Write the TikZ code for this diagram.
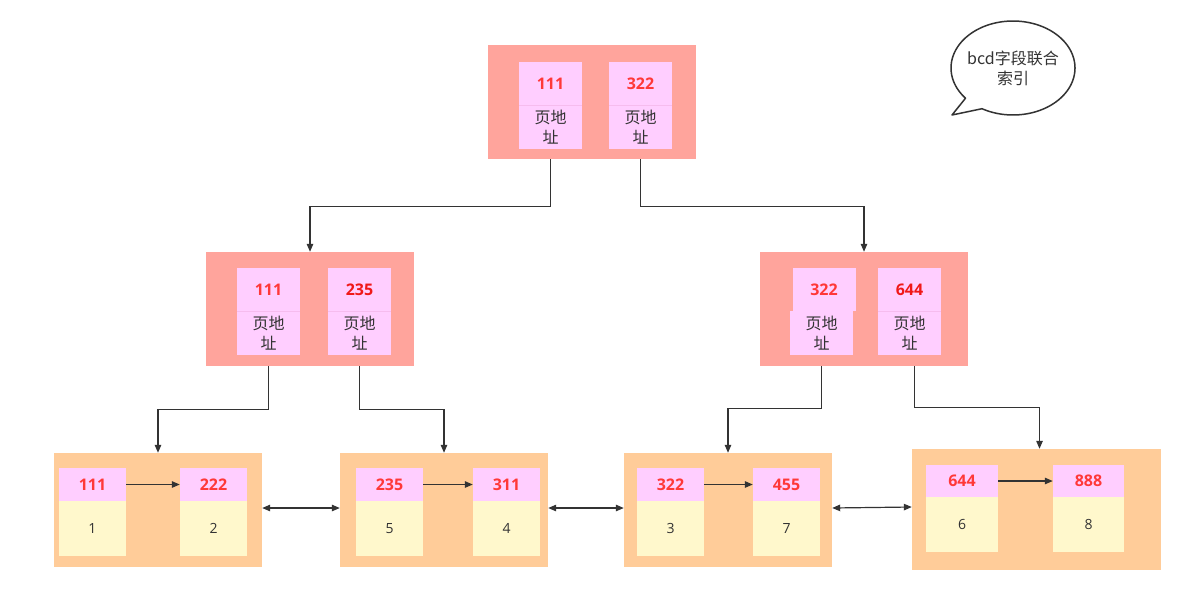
\documentclass[tikz,border=0pt]{standalone}
\usepackage{fontspec}
\setmainfont{Open Sans}
\newfontfamily\cjk{Noto Sans CJK SC}
\usetikzlibrary{arrows.meta}
\definecolor{outerred}{HTML}{FFA49C}
\definecolor{innerpink}{HTML}{FFCEFF}
\definecolor{divpink}{HTML}{F6BCEE}
\definecolor{outerpeach}{HTML}{FFCC99}
\definecolor{inneryellow}{HTML}{FFF8CC}
\definecolor{numred}{HTML}{FF3838}
\definecolor{numredb}{HTML}{F01818}
\definecolor{linegray}{HTML}{333333}
\definecolor{textgray}{HTML}{333333}
\tikzset{
  outerbox/.style={fill=outerred, inner sep=0pt, minimum width=208pt, minimum height=114pt},
  leafbox/.style={fill=outerpeach, inner sep=0pt, minimum width=208pt, minimum height=114pt},
  keybox/.style={fill=innerpink, inner sep=0pt, minimum width=63pt, minimum height=43pt,
     text=numred, font=\bfseries\fontsize{16}{19}\selectfont},
  addrbox/.style={fill=innerpink, inner sep=0pt, minimum width=63pt, minimum height=44pt,
     text=textgray, align=center, font=\cjk\fontsize{16}{19.5}\selectfont},
  leafkey/.style={fill=innerpink, inner sep=0pt, minimum width=67pt, minimum height=33pt,
     text=numred, font=\bfseries\fontsize{16}{19}\selectfont},
  leafval/.style={fill=inneryellow, inner sep=0pt, minimum width=67pt, minimum height=55pt,
     text=textgray, font=\fontsize{14}{17}\selectfont},
  conn/.style={draw=linegray, line width=1.2pt, -{Triangle[length=8pt,width=6.5pt]}},
  biconn/.style={draw=linegray, line width=1.2pt, {Triangle[length=8pt,width=6.5pt]}-{Triangle[length=8pt,width=6.5pt]}},
  divline/.style={draw=divpink, line width=0.6pt}
}
\begin{document}
\begin{tikzpicture}[x=1pt,y=-1pt]
\fill[white] (0,0) rectangle (1198,592);
\useasboundingbox (0,0) rectangle (1198,592);

% ---- top node
\node[outerbox] (top) at (592,102) {};
\node[keybox] (t1k) at (550.5,83.5) {111};
\node[addrbox] (t1a) at (550.5,127) {页地\\址};
\node[keybox] (t2k) at (640.5,83.5) {322};
\node[addrbox] (t2a) at (640.5,127) {页地\\址};
\draw[divline] (t1k.south west) -- (t1k.south east);
\draw[divline] (t2k.south west) -- (t2k.south east);

% ---- middle left
\node[outerbox] (ml) at (310,309) {};
\node[keybox] (m1k) at (268.5,289.5) {111};
\node[addrbox] (m1a) at (268.5,333) {页地\\址};
\node[keybox, text=numredb] (m2k) at (359.5,289.5) {235};
\node[addrbox] (m2a) at (359.5,333) {页地\\址};
\draw[divline] (m1k.south west) -- (m1k.south east);
\draw[divline] (m2k.south west) -- (m2k.south east);

% ---- middle right
\node[outerbox] (mr) at (864,309) {};
\node[keybox] (m3k) at (824,289.5) {322};
\node[addrbox] (m3a) at (821.5,333) {页地\\址};
\node[keybox, text=numredb] (m4k) at (909.5,289.5) {644};
\node[addrbox] (m4a) at (909.5,333) {页地\\址};
\draw[divline] (m4k.south west) -- (m4k.south east);

% ---- leaves
\node[leafbox] (b1) at (158,510) {};
\node[leafkey] (b1lk) at (92.5,484.5) {111};
\node[leafval] (b1lv) at (92.5,528.5) {1};
\node[leafkey] (b1rk) at (213.5,484.5) {222};
\node[leafval] (b1rv) at (213.5,528.5) {2};

\node[leafbox] (b2) at (444,510) {};
\node[leafkey] (b2lk) at (389.5,484.5) {235};
\node[leafval] (b2lv) at (389.5,528.5) {5};
\node[leafkey] (b2rk) at (506.5,484.5) {311};
\node[leafval] (b2rv) at (506.5,528.5) {4};

\node[leafbox] (b3) at (728,510) {};
\node[leafkey] (b3lk) at (670.5,484.5) {322};
\node[leafval] (b3lv) at (670.5,528.5) {3};
\node[leafkey] (b3rk) at (786.5,484.5) {455};
\node[leafval] (b3rv) at (786.5,528.5) {7};

\node[leafbox, minimum width=249pt, minimum height=121pt] (b4) at (1036.5,509.5) {};
\node[leafkey, minimum width=72pt, minimum height=32pt] (b4lk) at (962,481) {644};
\node[leafval, minimum width=72pt] (b4lv) at (962,524.5) {6};
\node[leafkey, minimum width=71pt, minimum height=32pt] (b4rk) at (1088.5,481) {888};
\node[leafval, minimum width=71pt] (b4rv) at (1088.5,524.5) {8};

% ---- tree connectors
\draw[conn] (top.south -| t1k) -- ++(0,47) -| (ml.north);
\draw[conn] (top.south -| t2k) -- ++(0,47) -| (mr.north);
\draw[conn] (ml.south -| m1k) -- ++(0,43) -| (b1.north);
\draw[conn] (ml.south -| m2k) -- ++(0,43) -| (b2.north);
\draw[conn] (mr.south -| m3a) -- ++(0,42) -| (b3.north);
\draw[conn] ([xshift=5pt]mr.south -| m4k) -- ++(0,41) -| ([xshift=3pt]b4.north);

% ---- leaf inner arrows
\draw[conn] (b1lk.east) -- (b1rk.west);
\draw[conn] (b2lk.east) -- (b2rk.west);
\draw[conn] (b3lk.east) -- (b3rk.west);
\draw[conn] (b4lk.east) -- (b4rk.west);

% ---- sibling links
\draw[biconn] ([yshift=2pt]b1.east) -- ([yshift=2pt]b2.west);
\draw[biconn] ([yshift=2pt]b2.east) -- ([yshift=2pt]b3.west);
\draw[biconn] ([yshift=2pt]b3.east) -- ([yshift=2.5pt]b4.west);

% ---- speech bubble
\draw[draw=linegray, line width=1.5pt, fill=white, line join=round]
  plot[domain=140:480, samples=120, smooth] ({1013+62*cos(\x)}, {68+47*sin(\x)})
  -- (952,115) -- cycle;
\node[text=textgray, align=center, font=\cjk\fontsize{16}{20}\selectfont] (bubbletext) at (1013,68) {bcd字段联合\\索引};
\end{tikzpicture}
\end{document}
